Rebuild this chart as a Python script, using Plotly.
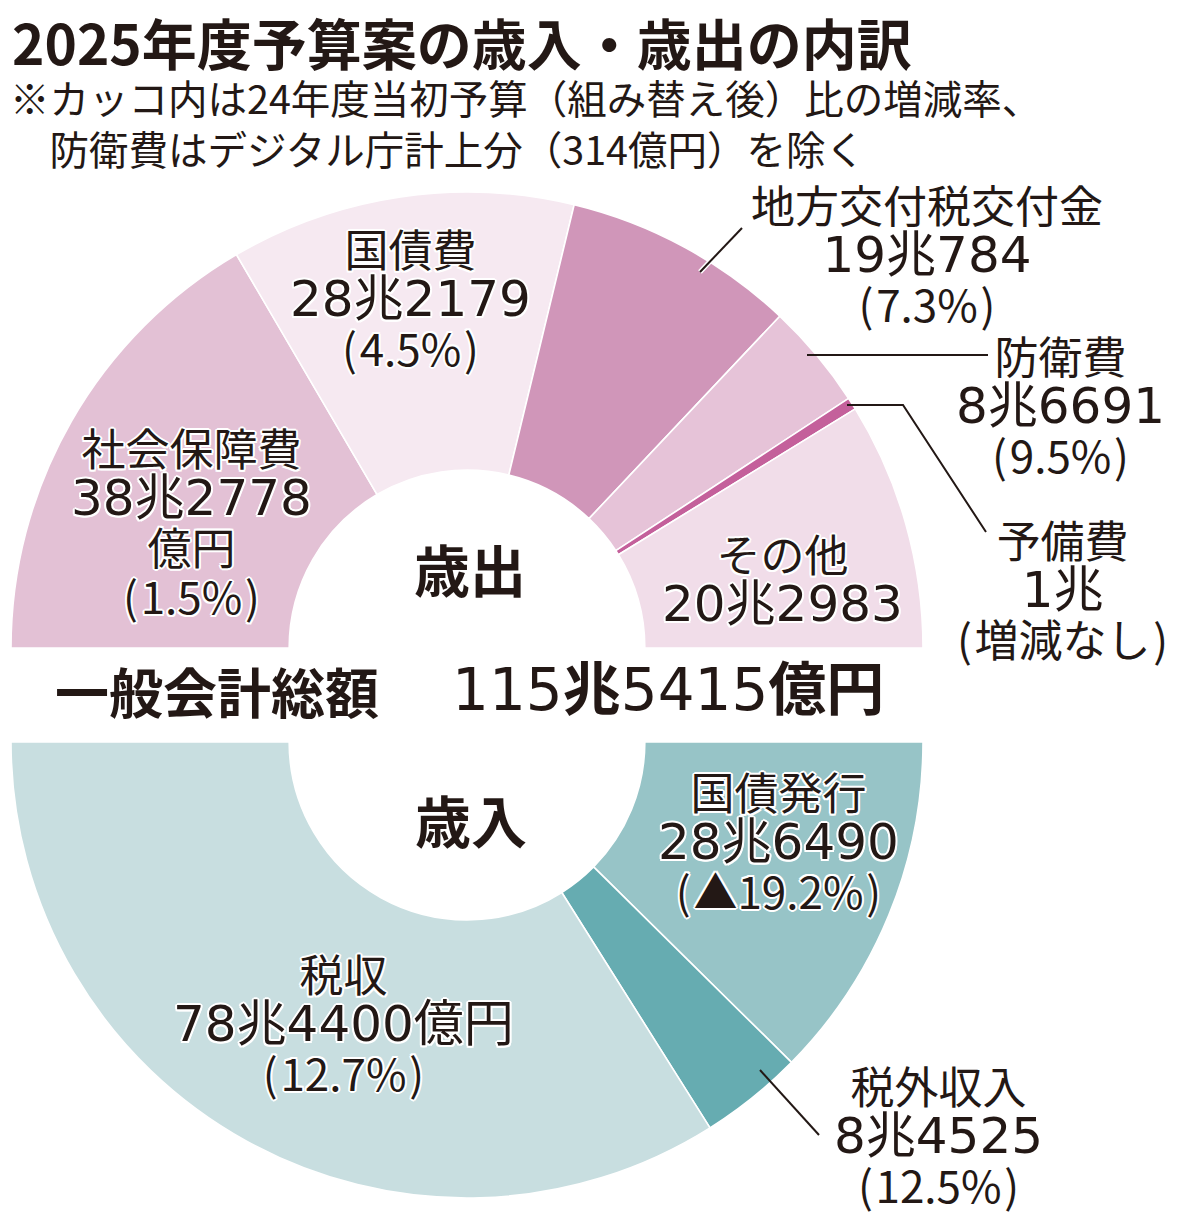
import plotly.graph_objects as go

# ---------------- data (単位: 億円) ----------------
exp_labels = ["社会保障費", "国債費", "地方交付税交付金", "防衛費", "予備費", "その他"]
exp_values = [382778, 282179, 190784, 86691, 10000, 202983]
exp_change = ["1.5%", "4.5%", "7.3%", "9.5%", "増減なし", None]

rev_labels = ["税収", "税外収入", "国債発行"]
rev_values = [784400, 84525, 286490]
rev_change = ["12.7%", "12.5%", "▲19.2%"]

title_text = "2025年度予算案の歳入・歳出の内訳"
note_lines = ["※カッコ内は24年度当初予算（組み替え後）比の増減率、",
              "　防衛費はデジタル庁計上分（314億円）を除く"]
center_top = "歳出"
center_bottom = "歳入"
total_label = "一般会計総額"

# ---------------- styles / layout ----------------
W, H = 1179, 1220
CX, R = 467, 456
CY_TOP, CY_BOT = 648, 742
HOLE = 0.39

exp_colors = ["#e3c1d5", "#f6e9f1", "#d096b9", "#e6c3d8", "#c4609b", "#f1dde9"]
rev_colors = ["#c8dee0", "#66acb1", "#97c4c7"]
TXT = "#231815"
JP = "Noto Sans CJK JP"
NUM = "DejaVu Sans, Noto Sans CJK JP"
HALO = ("#fff 2px 0px 0px, #fff -2px 0px 0px, #fff 0px 2px 0px, #fff 0px -2px 0px, "
        "#fff 1.5px 1.5px 0px, #fff -1.5px -1.5px 0px, #fff 1.5px -1.5px 0px, #fff -1.5px 1.5px 0px")

# label placement: x centre, y centre of first and last line (pixels)
exp_pos = {
    "社会保障費": dict(x=191, y0=446, y1=595, unit="line", halo=True),
    "国債費": dict(x=410, y0=247, y1=348, unit=None, halo=True),
    "地方交付税交付金": dict(x=927, y0=207, y1=300, unit=None, halo=False),
    "防衛費": dict(x=1060, y0=355, y1=453, unit=None, halo=False),
    "予備費": dict(x=1062, y0=537, y1=639, unit=None, halo=False),
    "その他": dict(x=782, y0=554, y1=599, unit=None, halo=True),
}
rev_pos = {
    "税収": dict(x=343, y0=973, y1=1072, unit="inline", halo=True),
    "税外収入": dict(x=938, y0=1085, y1=1183, unit=None, halo=False),
    "国債発行": dict(x=778, y0=790, y1=891, unit=None, halo=True),
}


def cho(v):
    t, r = divmod(v, 10000)
    return f"{t}兆{r}" if r else f"{t}兆"


def px(x):
    return x / W


def py(y):
    return 1 - y / H


fig = go.Figure()

# top half: expenditure, clockwise from 9 o'clock; invisible filler for the lower half
tot_exp = sum(exp_values)
fig.add_trace(go.Pie(
    labels=exp_labels + ["_"], values=exp_values + [tot_exp],
    sort=False, direction="clockwise", rotation=270, hole=HOLE,
    marker=dict(colors=exp_colors + ["rgba(0,0,0,0)"],
                line=dict(color=["#ffffff"] * len(exp_values) + ["rgba(0,0,0,0)"],
                          width=[1.6] * len(exp_values) + [0])),
    textinfo="none", hoverinfo="skip", showlegend=False,
    domain=dict(x=[px(CX - R), px(CX + R)], y=[py(CY_TOP + R), py(CY_TOP - R)]),
))

# bottom half: revenue, drawn clockwise from 3 o'clock in reverse order
tot_rev = sum(rev_values)
fig.add_trace(go.Pie(
    labels=rev_labels[::-1] + ["__"], values=rev_values[::-1] + [tot_rev],
    sort=False, direction="clockwise", rotation=90, hole=HOLE,
    marker=dict(colors=rev_colors[::-1] + ["rgba(0,0,0,0)"],
                line=dict(color=["#ffffff"] * len(rev_values) + ["rgba(0,0,0,0)"],
                          width=[1.6] * len(rev_values) + [0])),
    textinfo="none", hoverinfo="skip", showlegend=False,
    domain=dict(x=[px(CX - R), px(CX + R)], y=[py(CY_BOT + R), py(CY_BOT - R)]),
))

annotations = []


def add_text(text, x, y, size, family=JP, weight="normal", halo=False, anchor="center"):
    f = dict(family=family, size=size, color=TXT, weight=weight)
    if halo:
        f["shadow"] = HALO
    annotations.append(dict(text=text, x=px(x), y=py(y), xref="paper", yref="paper",
                            xanchor=anchor, yanchor="middle", showarrow=False,
                            align="center" if anchor == "center" else anchor, font=f))


def span(t, size, fam, weight=None):
    st = f"font-size:{size}px;font-family:{fam}"
    if weight:
        st += f";font-weight:{weight}"
    return f'<span style="{st}">{t}</span>'


def add_label(name, value, change, pos):
    lines = [span(name, 44, JP)]
    num = cho(value)
    if pos["unit"] == "inline":
        num += "億円"
    lines.append(span(num, 50, NUM))
    if pos["unit"] == "line":
        lines.append(span("億円", 44, JP))
    if change is not None:
        lines.append(span(f"(\u200a{change}\u200a)", 44, JP))
    add_text("<br>".join(lines), pos["x"], (pos["y0"] + pos["y1"]) / 2, 38,
             family=JP, halo=pos["halo"])


for n, v, c in zip(exp_labels, exp_values, exp_change):
    add_label(n, v, c, exp_pos[n])
for n, v, c in zip(rev_labels, rev_values, rev_change):
    add_label(n, v, c, rev_pos[n])

# titles
add_text(f"<b>{title_text}</b>", 10, 41, 55, anchor="left")
add_text("<br>".join(note_lines), 8, 122, 39.5, anchor="left")

# centre texts
add_text(f"<b>{center_top}</b>", 470, 567, 56)
add_text(f"<b>{center_bottom}</b>", 471, 818, 56)
add_text(f"<b>{total_label}</b>", 217, 690, 54)
total_t = cho(tot_exp)
t_num, t_rest = total_t.split("兆")
add_text(f"{t_num}<b>兆</b>{t_rest}<b>億円</b>", 668, 690, 58, family=NUM)

fig.update_layout(annotations=annotations)

# leader lines
shapes = []
lw = dict(color=TXT, width=2)
halo_line = dict(color="#ffffff", width=5)
shapes.append(dict(type="line", xref="paper", yref="paper",
                   x0=px(700), y0=py(272), x1=px(715), y1=py(256), line=halo_line))
shapes.append(dict(type="line", xref="paper", yref="paper",
                   x0=px(700), y0=py(272), x1=px(742), y1=py(228), line=lw))
shapes.append(dict(type="line", xref="paper", yref="paper",
                   x0=px(807), y0=py(355), x1=px(988), y1=py(355), line=lw))
shapes.append(dict(type="path", xref="paper", yref="paper",
                   path=f"M{px(847)},{py(405)} L{px(903)},{py(405)} L{px(986)},{py(532)}",
                   line=lw))
shapes.append(dict(type="line", xref="paper", yref="paper",
                   x0=px(760), y0=py(1070), x1=px(819), y1=py(1135), line=lw))
fig.update_layout(shapes=shapes)

fig.update_layout(
    width=W, height=H,
    margin=dict(l=0, r=0, t=0, b=0, pad=0),
    paper_bgcolor="#ffffff", plot_bgcolor="#ffffff",
    font=dict(family=JP, color=TXT),
)

fig.write_html("out.html")
